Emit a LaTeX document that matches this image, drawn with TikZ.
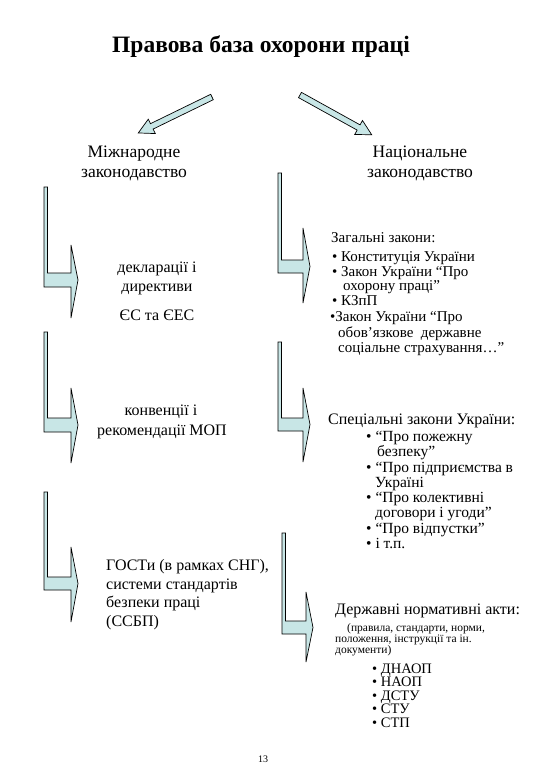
\documentclass[tikz,border=0pt]{standalone}
\usepackage{fontspec}
\setmainfont{Liberation Serif}
\begin{document}
\begin{tikzpicture}[x=1pt,y=-1pt,
  blk/.style={draw=black,line width=0.7pt,fill=arrowfill,line join=miter},
  lbl/.style={inner sep=0pt,font=\fontsize{17.5}{20}\selectfont,anchor=base},
  txt/.style={inner sep=0pt,font=\fontsize{16}{16}\selectfont,anchor=base west},
  rtx/.style={inner sep=0pt,font=\fontsize{15}{15}\selectfont,anchor=base west},
  btx/.style={inner sep=0pt,font=\fontsize{14.5}{14.5}\selectfont,anchor=base west},
  ctx/.style={inner sep=0pt,font=\fontsize{16}{16}\selectfont,anchor=base},
  sml/.style={inner sep=0pt,font=\fontsize{11.5}{11.5}\selectfont,anchor=base west}]
\definecolor{arrowfill}{RGB}{200,230,230}
\useasboundingbox (0,0) rectangle (540,780);
\fill[white] (0,0) rectangle (540,780);
% title
\node[inner sep=0pt,anchor=base,font=\fontsize{23.5}{24}\selectfont\bfseries] (title) at (261,52) {Правова база охорони праці};
% diagonal arrows
\newcommand{\blockarrow}[4]{%
 \begin{scope}[shift={(#1,#2)},rotate=#3]
  \draw[blk] (0,-3) -- (#4-15,-3) -- (#4-15,-8) -- (#4,0) -- (#4-15,8) -- (#4-15,3) -- (0,3) -- cycle;
 \end{scope}}
\blockarrow{212}{97}{206}{82}
\blockarrow{300}{95}{-29}{82}
% headings
\node[lbl] (int1) at (134,157) {Міжнародне};
\node[lbl] (int2) at (134,177) {законодавство};
\node[lbl] (nat1) at (420,157) {Національне};
\node[lbl] (nat2) at (420,177) {законодавство};
% L-arrows
\newcommand{\Larrow}[9]{%
 \draw[blk] (#1,#3) -- (#1,#5) -- (#6,#5) -- (#6,#8) -- (#9,{(#4+#5)/2}) -- (#6,#7) -- (#6,#4) -- (#2,#4) -- (#2,#3) -- cycle;}
\Larrow{44}{47.5}{187}{273}{287}{71}{245}{318}{78}
\Larrow{44}{47.5}{332}{418}{432}{71}{388}{463}{78}
\Larrow{44}{47.5}{492}{577}{590}{71}{547}{622}{78}
\Larrow{278}{281.5}{173}{260}{273}{303}{228}{303}{310}
\Larrow{278}{281.5}{342}{418}{431}{303}{388}{462}{310}
\Larrow{282}{285.5}{533}{621}{634}{306}{592}{662}{313}
% left texts
\node[ctx] (d1) at (157,272) {декларації і};
\node[ctx] (d2) at (157,291) {директиви};
\node[ctx] (d3) at (157,320) {ЄС та ЄЕС};
\node[ctx] (k1) at (161,415) {конвенції і};
\node[ctx] (k2) at (162,435) {рекомендації МОП};
\node[txt] (g1) at (106,570) {ГОСТи (в рамках СНГ),};
\node[txt] (g2) at (106,589) {системи стандартів};
\node[txt] (g3) at (106,607) {безпеки праці};
\node[txt] (g4) at (106,626) {(ССБП)};
% right block 1
\node[rtx] (z0) at (331,242) {Загальні закони:};
\node[rtx] (z1) at (332,261) {• Конституція України};
\node[rtx] (z2) at (332,276) {• Закон України “Про};
\node[rtx] (z3) at (343,290) {охорону праці”};
\node[rtx] (z4) at (332,305) {• КЗпП};
\node[rtx] (z5) at (330,321) {•Закон України “Про};
\node[rtx] (z6) at (338,337) {обов'язкове\ \ державне};
\node[rtx] (z7) at (338,352) {соціальне страхування…”};
% right block 2
\node[txt] (s0) at (328,424) {Спеціальні закони України:};
\node[txt,font=\fontsize{15.5}{15.5}\selectfont] (s1) at (366,441) {• “Про пожежну};
\node[txt,font=\fontsize{15.5}{15.5}\selectfont] (s2) at (377,456) {безпеку”};
\node[txt,font=\fontsize{15.5}{15.5}\selectfont] (s3) at (366,472) {• “Про підприємства в};
\node[txt,font=\fontsize{15.5}{15.5}\selectfont] (s4) at (375,487) {Україні};
\node[txt,font=\fontsize{15.5}{15.5}\selectfont] (s5) at (366,502) {• “Про колективні};
\node[txt,font=\fontsize{15.5}{15.5}\selectfont] (s6) at (375,517) {договори і угоди”};
\node[txt,font=\fontsize{15.5}{15.5}\selectfont] (s7) at (366,533) {• “Про відпустки”};
\node[txt,font=\fontsize{15.5}{15.5}\selectfont] (s8) at (366,548) {• і т.п.};
% right block 3
\node[txt] (n0) at (335,614) {Державні нормативні акти:};
\node[sml] (n1) at (347,631) {(правила, стандарти, норми,};
\node[sml] (n2) at (335,642) {положення, інструкції та ін.};
\node[sml] (n3) at (335,653) {документи)};
\node[btx] (b1) at (372,673) {• ДНАОП};
\node[btx] (b2) at (372,686.5) {• НАОП};
\node[btx] (b3) at (372,700) {• ДСТУ};
\node[btx] (b4) at (372,713.5) {• СТУ};
\node[btx] (b5) at (372,727) {• СТП};
% page number
\node[inner sep=0pt,anchor=base,font=\fontsize{10}{10}\selectfont] (pg) at (263,762) {13};
\end{tikzpicture}
\end{document}
